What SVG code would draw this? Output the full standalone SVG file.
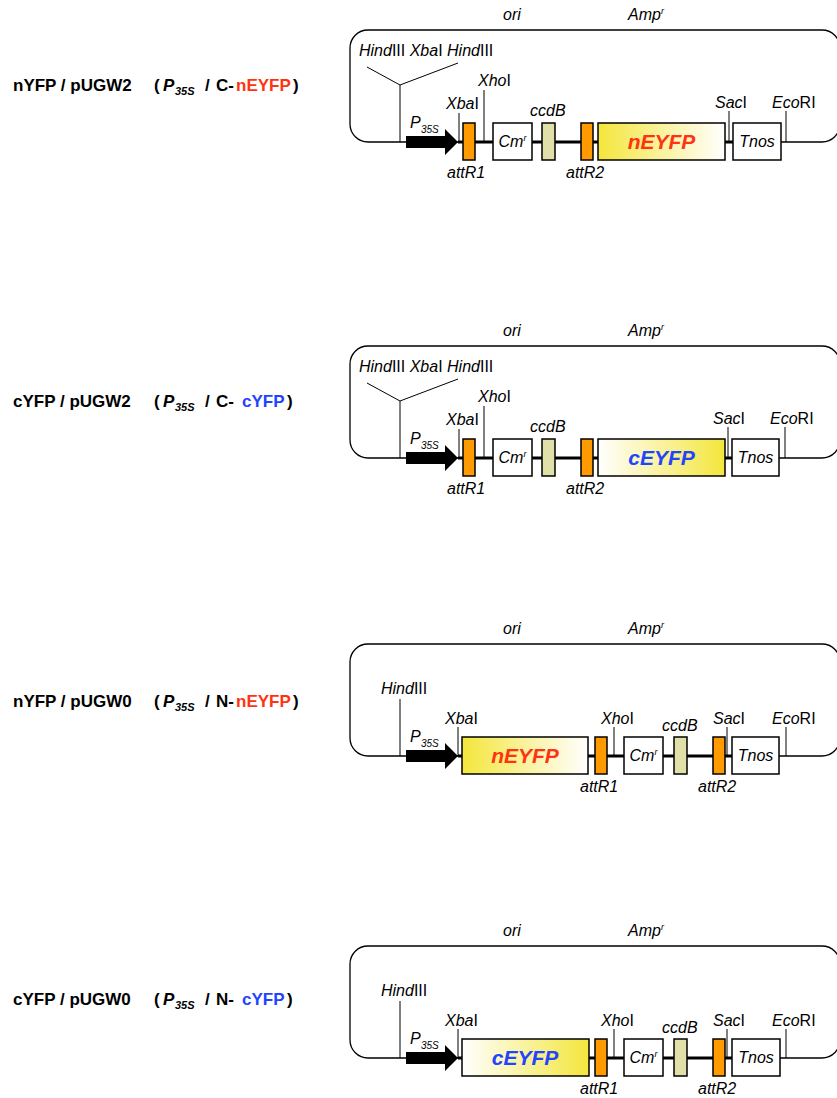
<svg xmlns="http://www.w3.org/2000/svg" width="837" height="1098" viewBox="0 0 837 1098">
<defs>
  <linearGradient id="gN" x1="0" y1="0" x2="1" y2="0">
    <stop offset="0" stop-color="#F4E63C"/>
    <stop offset="1" stop-color="#FFFFFF"/>
  </linearGradient>
  <linearGradient id="gC" x1="0" y1="0" x2="1" y2="0">
    <stop offset="0" stop-color="#FFFFFF"/>
    <stop offset="1" stop-color="#F4E63C"/>
  </linearGradient>
  <style>
    text{font-family:"Liberation Sans",Arial,Helvetica,sans-serif;fill:#000}
    .lbl{font-size:17px;font-weight:bold}
    .sub{font-size:11px;font-style:italic}
    .bi{font-style:italic}
    .t{font-size:16px}
    .i{font-style:italic}
    .red{fill:#FF3311}
    .blue{fill:#2244FF}
    .loop{fill:none;stroke:#000;stroke-width:1.3}
    .thick{fill:none;stroke:#000;stroke-width:3}
    .site{fill:none;stroke:#000;stroke-width:1}
    .box{fill:#fff;stroke:#000;stroke-width:1.5}
    .att{fill:#FF9A00;stroke:#000;stroke-width:1.5}
    .ccd{fill:#E0E0A8;stroke:#000;stroke-width:1.5}
    .yfp{font-size:21px;font-weight:bold;font-style:italic}
    .cm{font-size:16px;font-style:italic}
    .sup{font-size:9px}
  </style>
  <path id="arrow" d="M406,136 L445,136 L445,129 L458,142 L445,155 L445,148 L406,148 Z" fill="#000"/>
</defs>

<!-- Diagram 1 -->
<g id="d1">
  <g id="d1-label">
    <text class="lbl" y="91"><tspan x="13">nYFP / pUGW2</tspan><tspan x="154">(</tspan><tspan x="163" class="bi">P</tspan><tspan x="175" dy="4" class="sub">35S</tspan><tspan x="205" dy="-4">/</tspan><tspan x="216">C-</tspan><tspan x="236" class="red">nEYFP</tspan><tspan x="293">)</tspan></text>
  </g>
  <g id="d1-connectors">
    <rect class="loop" x="350" y="30" width="490" height="112" rx="18"/>
    <line class="thick" x1="458" y1="142" x2="733" y2="142"/>
    <polyline class="site" points="367,67 400,85 458,63"/>
    <line class="site" x1="400" y1="85" x2="400" y2="142"/>
    <line class="site" x1="484" y1="90" x2="484" y2="142"/>
    <line class="site" x1="459" y1="113" x2="459" y2="142"/>
    <line class="site" x1="729" y1="111" x2="729" y2="142"/>
    <line class="site" x1="786" y1="111" x2="786" y2="142"/>
  </g>
  <g id="d1-backbone-labels">
    <text class="t i" x="503" y="20">ori</text>
    <text class="t" x="628" y="20"><tspan class="i">Amp</tspan><tspan class="i sup" dy="-6">r</tspan></text>
  </g>
  <g id="d1-sites">
    <text class="t" x="359" y="56"><tspan class="i">Hind</tspan>III <tspan class="i">Xba</tspan>I <tspan class="i">Hind</tspan>III</text>
    <text class="t" x="478" y="86"><tspan class="i">Xho</tspan>I</text>
    <text class="t" x="446" y="109"><tspan class="i">Xba</tspan>I</text>
    <text class="t" x="715" y="108"><tspan class="i">Sac</tspan>I</text>
    <text class="t" x="772" y="108"><tspan class="i">Eco</tspan>RI</text>
  </g>
  <g id="d1-p35s">
    <use href="#arrow"/>
    <text class="t i" x="410" y="128">P</text>
    <text class="i" font-size="10" x="421" y="133">35S</text>
  </g>
  <g id="d1-attR1">
    <rect class="att" x="463" y="123" width="12" height="37"/>
    <text class="t i" x="447" y="178">attR1</text>
  </g>
  <g id="d1-cmr">
    <rect class="box" x="493" y="123" width="39" height="37"/>
    <text class="cm" x="512.5" y="147" text-anchor="middle">Cm<tspan class="sup" dy="-6">r</tspan></text>
  </g>
  <g id="d1-ccdB">
    <rect class="ccd" x="542" y="123" width="13" height="37"/>
    <text class="t i" x="530" y="116">ccdB</text>
  </g>
  <g id="d1-attR2">
    <rect class="att" x="581" y="123" width="12" height="37"/>
    <text class="t i" x="566" y="178">attR2</text>
  </g>
  <g id="d1-nEYFP">
    <rect class="box" x="598" y="123" width="127" height="37" style="fill:url(#gN)"/>
    <text class="yfp red" x="661.5" y="149" text-anchor="middle">nEYFP</text>
  </g>
  <g id="d1-tnos">
    <rect class="box" x="733" y="123" width="48" height="37"/>
    <text class="t i" x="757" y="147" text-anchor="middle">Tnos</text>
  </g>
</g>

<!-- Diagram 2 -->
<g id="d2" transform="translate(0,316)">
  <g id="d2-label">
    <text class="lbl" y="91"><tspan x="13">cYFP / pUGW2</tspan><tspan x="154">(</tspan><tspan x="163" class="bi">P</tspan><tspan x="175" dy="4" class="sub">35S</tspan><tspan x="205" dy="-4">/</tspan><tspan x="216">C-</tspan><tspan x="242" class="blue">cYFP</tspan><tspan x="287">)</tspan></text>
  </g>
  <g id="d2-connectors">
    <rect class="loop" x="350" y="30" width="490" height="112" rx="18"/>
    <line class="thick" x1="458" y1="142" x2="733" y2="142"/>
    <polyline class="site" points="367,67 400,85 458,63"/>
    <line class="site" x1="400" y1="85" x2="400" y2="142"/>
    <line class="site" x1="484" y1="90" x2="484" y2="142"/>
    <line class="site" x1="459" y1="113" x2="459" y2="142"/>
    <line class="site" x1="728" y1="111" x2="728" y2="142"/>
    <line class="site" x1="785" y1="111" x2="785" y2="142"/>
  </g>
  <g id="d2-backbone-labels">
    <text class="t i" x="503" y="20">ori</text>
    <text class="t" x="628" y="20"><tspan class="i">Amp</tspan><tspan class="i sup" dy="-6">r</tspan></text>
  </g>
  <g id="d2-sites">
    <text class="t" x="359" y="56"><tspan class="i">Hind</tspan>III <tspan class="i">Xba</tspan>I <tspan class="i">Hind</tspan>III</text>
    <text class="t" x="478" y="86"><tspan class="i">Xho</tspan>I</text>
    <text class="t" x="446" y="109"><tspan class="i">Xba</tspan>I</text>
    <text class="t" x="713" y="108"><tspan class="i">Sac</tspan>I</text>
    <text class="t" x="770" y="108"><tspan class="i">Eco</tspan>RI</text>
  </g>
  <g id="d2-p35s">
    <use href="#arrow"/>
    <text class="t i" x="410" y="128">P</text>
    <text class="i" font-size="10" x="421" y="133">35S</text>
  </g>
  <g id="d2-attR1">
    <rect class="att" x="463" y="123" width="12" height="37"/>
    <text class="t i" x="447" y="178">attR1</text>
  </g>
  <g id="d2-cmr">
    <rect class="box" x="493" y="123" width="39" height="37"/>
    <text class="cm" x="512.5" y="147" text-anchor="middle">Cm<tspan class="sup" dy="-6">r</tspan></text>
  </g>
  <g id="d2-ccdB">
    <rect class="ccd" x="542" y="123" width="13" height="37"/>
    <text class="t i" x="530" y="116">ccdB</text>
  </g>
  <g id="d2-attR2">
    <rect class="att" x="581" y="123" width="12" height="37"/>
    <text class="t i" x="566" y="178">attR2</text>
  </g>
  <g id="d2-cEYFP">
    <rect class="box" x="598" y="123" width="127" height="37" style="fill:url(#gC)"/>
    <text class="yfp blue" x="661.5" y="149" text-anchor="middle">cEYFP</text>
  </g>
  <g id="d2-tnos">
    <rect class="box" x="732" y="123" width="47" height="37"/>
    <text class="t i" x="755.5" y="147" text-anchor="middle">Tnos</text>
  </g>
</g>

<!-- Diagram 3 -->
<g id="d3" transform="translate(0,614)">
  <g id="d3-label">
    <text class="lbl" y="93"><tspan x="13">nYFP / pUGW0</tspan><tspan x="154">(</tspan><tspan x="163" class="bi">P</tspan><tspan x="175" dy="4" class="sub">35S</tspan><tspan x="205" dy="-4">/</tspan><tspan x="216">N-</tspan><tspan x="236" class="red">nEYFP</tspan><tspan x="293">)</tspan></text>
  </g>
  <g id="d3-connectors">
    <rect class="loop" x="350" y="30" width="490" height="112" rx="18"/>
    <line class="thick" x1="458" y1="142" x2="732" y2="142"/>
    <line class="site" x1="400" y1="85" x2="400" y2="142"/>
    <line class="site" x1="458" y1="113" x2="458" y2="142"/>
    <line class="site" x1="614" y1="113" x2="614" y2="142"/>
    <line class="site" x1="727" y1="113" x2="727" y2="142"/>
    <line class="site" x1="786" y1="113" x2="786" y2="142"/>
  </g>
  <g id="d3-backbone-labels">
    <text class="t i" x="503" y="20">ori</text>
    <text class="t" x="628" y="20"><tspan class="i">Amp</tspan><tspan class="i sup" dy="-6">r</tspan></text>
  </g>
  <g id="d3-sites">
    <text class="t" x="381" y="80"><tspan class="i">Hind</tspan>III</text>
    <text class="t" x="445" y="110"><tspan class="i">Xba</tspan>I</text>
    <text class="t" x="601" y="110"><tspan class="i">Xho</tspan>I</text>
    <text class="t" x="713" y="110"><tspan class="i">Sac</tspan>I</text>
    <text class="t" x="772" y="110"><tspan class="i">Eco</tspan>RI</text>
  </g>
  <g id="d3-p35s">
    <use href="#arrow"/>
    <text class="t i" x="410" y="128">P</text>
    <text class="i" font-size="10" x="421" y="133">35S</text>
  </g>
  <g id="d3-nEYFP">
    <rect class="box" x="462" y="123" width="126" height="37" style="fill:url(#gN)"/>
    <text class="yfp red" x="525" y="149" text-anchor="middle">nEYFP</text>
  </g>
  <g id="d3-attR1">
    <rect class="att" x="595" y="123" width="12" height="37"/>
    <text class="t i" x="580" y="178">attR1</text>
  </g>
  <g id="d3-cmr">
    <rect class="box" x="624" y="123" width="39" height="37"/>
    <text class="cm" x="643.5" y="147" text-anchor="middle">Cm<tspan class="sup" dy="-6">r</tspan></text>
  </g>
  <g id="d3-ccdB">
    <rect class="ccd" x="674" y="123" width="13" height="37"/>
    <text class="t i" x="662" y="117">ccdB</text>
  </g>
  <g id="d3-attR2">
    <rect class="att" x="713" y="123" width="12" height="37"/>
    <text class="t i" x="698" y="178">attR2</text>
  </g>
  <g id="d3-tnos">
    <rect class="box" x="732" y="123" width="47" height="37"/>
    <text class="t i" x="755.5" y="147" text-anchor="middle">Tnos</text>
  </g>
</g>

<!-- Diagram 4 -->
<g id="d4" transform="translate(0,916)">
  <g id="d4-label">
    <text class="lbl" y="89"><tspan x="13">cYFP / pUGW0</tspan><tspan x="154">(</tspan><tspan x="163" class="bi">P</tspan><tspan x="175" dy="4" class="sub">35S</tspan><tspan x="205" dy="-4">/</tspan><tspan x="216">N-</tspan><tspan x="242" class="blue">cYFP</tspan><tspan x="287">)</tspan></text>
  </g>
  <g id="d4-connectors">
    <rect class="loop" x="350" y="30" width="490" height="112" rx="18"/>
    <line class="thick" x1="458" y1="142" x2="732" y2="142"/>
    <line class="site" x1="400" y1="85" x2="400" y2="142"/>
    <line class="site" x1="458" y1="113" x2="458" y2="142"/>
    <line class="site" x1="614" y1="113" x2="614" y2="142"/>
    <line class="site" x1="727" y1="113" x2="727" y2="142"/>
    <line class="site" x1="786" y1="113" x2="786" y2="142"/>
  </g>
  <g id="d4-backbone-labels">
    <text class="t i" x="503" y="20">ori</text>
    <text class="t" x="628" y="20"><tspan class="i">Amp</tspan><tspan class="i sup" dy="-6">r</tspan></text>
  </g>
  <g id="d4-sites">
    <text class="t" x="381" y="80"><tspan class="i">Hind</tspan>III</text>
    <text class="t" x="445" y="110"><tspan class="i">Xba</tspan>I</text>
    <text class="t" x="601" y="110"><tspan class="i">Xho</tspan>I</text>
    <text class="t" x="713" y="110"><tspan class="i">Sac</tspan>I</text>
    <text class="t" x="772" y="110"><tspan class="i">Eco</tspan>RI</text>
  </g>
  <g id="d4-p35s">
    <use href="#arrow"/>
    <text class="t i" x="410" y="128">P</text>
    <text class="i" font-size="10" x="421" y="133">35S</text>
  </g>
  <g id="d4-cEYFP">
    <rect class="box" x="462" y="123" width="127" height="37" style="fill:url(#gC)"/>
    <text class="yfp blue" x="525" y="149" text-anchor="middle">cEYFP</text>
  </g>
  <g id="d4-attR1">
    <rect class="att" x="595" y="123" width="12" height="37"/>
    <text class="t i" x="580" y="178">attR1</text>
  </g>
  <g id="d4-cmr">
    <rect class="box" x="624" y="123" width="39" height="37"/>
    <text class="cm" x="643.5" y="147" text-anchor="middle">Cm<tspan class="sup" dy="-6">r</tspan></text>
  </g>
  <g id="d4-ccdB">
    <rect class="ccd" x="674" y="123" width="13" height="37"/>
    <text class="t i" x="662" y="117">ccdB</text>
  </g>
  <g id="d4-attR2">
    <rect class="att" x="713" y="123" width="12" height="37"/>
    <text class="t i" x="698" y="178">attR2</text>
  </g>
  <g id="d4-tnos">
    <rect class="box" x="732" y="123" width="48" height="37"/>
    <text class="t i" x="756" y="147" text-anchor="middle">Tnos</text>
  </g>
</g>
</svg>
